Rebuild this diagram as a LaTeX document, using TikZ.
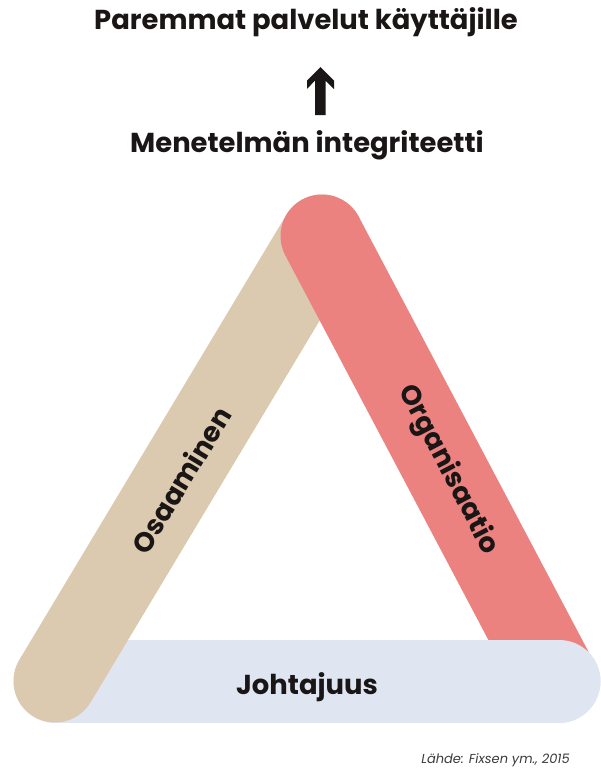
\documentclass[tikz,border=0pt]{standalone}
\usepackage{fontspec}
\setmainfont{Poppins}
\definecolor{tanband}{RGB}{220,202,176}
\definecolor{redband}{RGB}{235,130,128}
\definecolor{blueband}{RGB}{224,230,241}
\definecolor{ink}{RGB}{26,22,22}
\begin{document}
\begin{tikzpicture}[x=1pt,y=-1pt,
  band/.style={line width=83pt,line cap=round},
  heading/.style={font=\fontsize{27.4}{32}\selectfont\bfseries,text=ink,inner sep=0pt},
  bandlabel/.style={font=\fontsize{27.4}{32}\selectfont\bfseries,text=ink,inner sep=0pt},
  source/.style={font=\fontsize{13}{15}\selectfont\itshape,text=ink!85,inner sep=0pt}]
\useasboundingbox (0,0) rectangle (601,769);
\coordinate (L) at (55,681);
\coordinate (T) at (322,236);
\coordinate (R) at (559,681);
\coordinate (RB) at (557,681);
% bands
\draw[band,blueband] (L) -- (R);
\draw[band,tanband] (L) -- (T);
\draw[band,redband] (T) -- (RB);
\begin{scope}
\clip (400,600) rectangle (601,769);
\draw[band,blueband] (L) -- (R);
\end{scope}
% labels
\node[heading] (top) at (306,22) {Paremmat palvelut käyttäjille};
\node[heading] (mid) at (307,145) {Menetelmän integriteetti};
\node[bandlabel,rotate=58.9] (osa) at (181,480) {Osaaminen};
\node[bandlabel,rotate=-62.5] (org) at (448,470) {Organisaatio};
\node[bandlabel] (joh) at (307,687) {Johtajuus};
\node[source,anchor=east] (src) at (570,760) {Lähde: Fixsen ym., 2015};
% arrow
\fill[ink] (320.5,67) -- (334,80.5) -- (334,89) -- (325.5,80.5) -- (325.5,115)
  -- (315,115) -- (315,80.5) -- (307,89) -- (307,80.5) -- cycle;
\end{tikzpicture}
\end{document}
